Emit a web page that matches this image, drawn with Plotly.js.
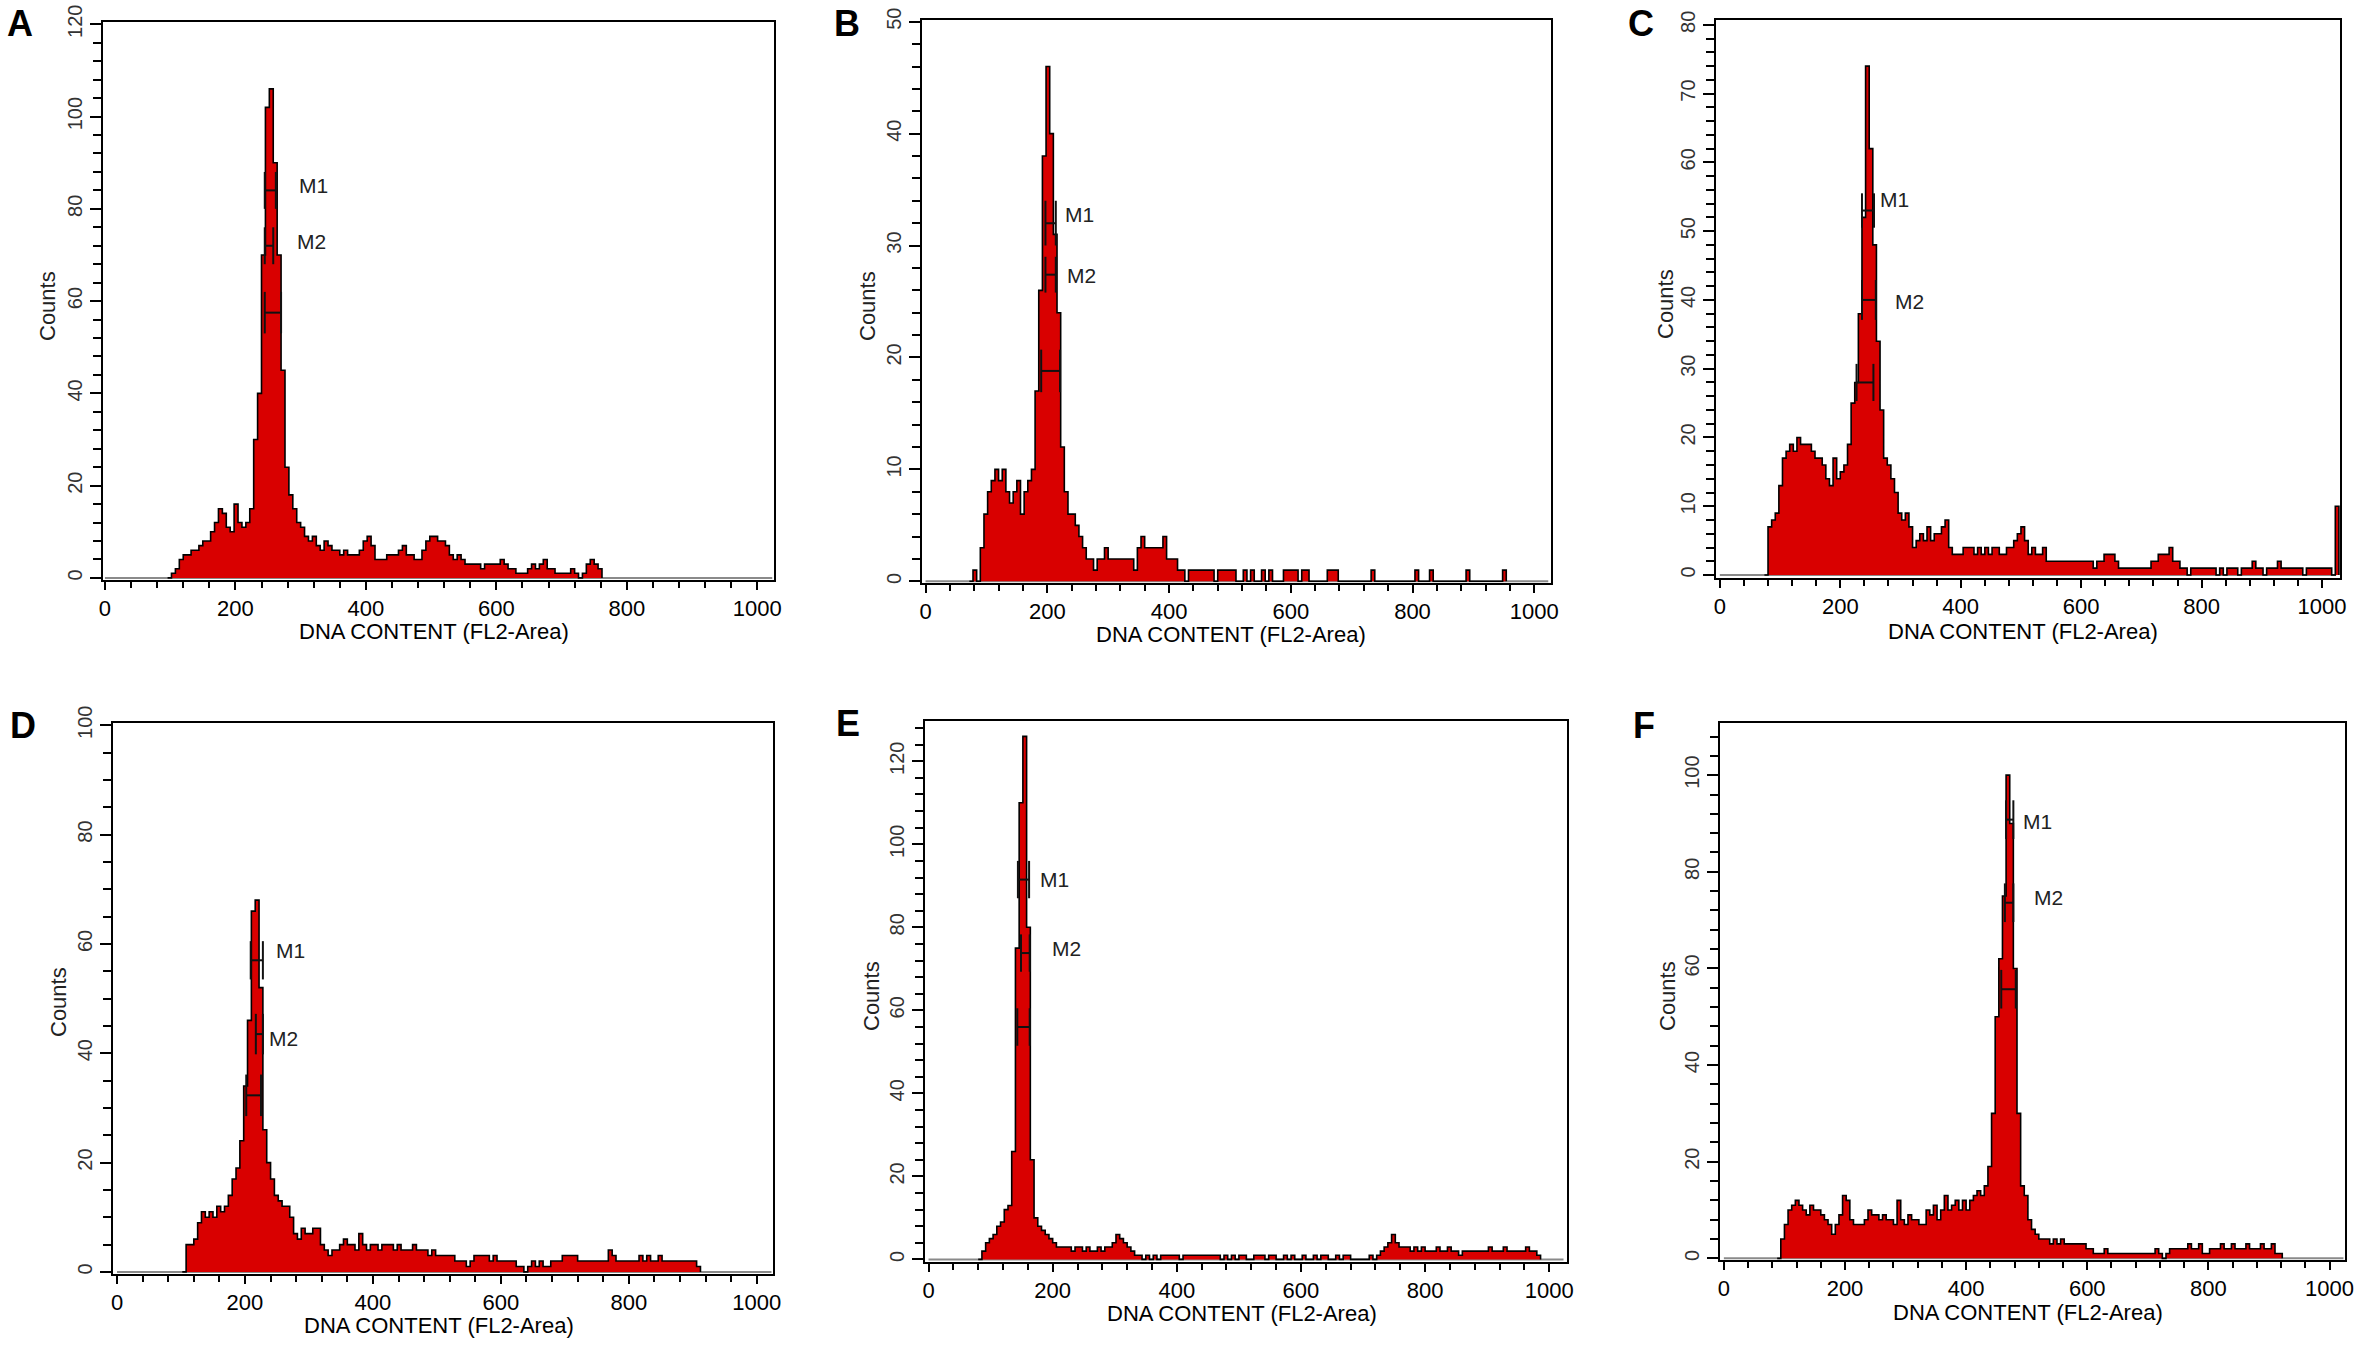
<!DOCTYPE html>
<html>
<head>
<meta charset="utf-8">
<script src="https://cdn.plot.ly/plotly-3.0.1.min.js"></script>
<style>
  html, body { margin: 0; padding: 0; background: #fff; }
  #chart { width: 2363px; height: 1345px; }
</style>
</head>
<body>
<div id="chart"></div>
<script>
// DNA content histograms, six samples (A-F). Counts per 6-channel bin.
const binWidth = 6;

const startA = 96;
const countsA = [
  0, 1, 2, 4, 5, 5, 6, 6, 7, 8,            // 96
  8, 10, 12, 15, 14, 11, 10, 16, 12, 11,   // 156
  12, 15, 30, 40, 70, 102, 106, 90, 70, 45,// 216
  24, 18, 15, 12, 11, 9, 8, 9, 7, 6,       // 276
  8, 7, 6, 6, 5, 6, 5, 5, 5, 6,            // 336
  8, 9, 7, 4, 4, 4, 5, 5, 5, 6,            // 396
  7, 5, 5, 4, 4, 6, 8, 9, 9, 8,            // 456
  8, 7, 5, 4, 5, 4, 3, 3, 3, 3,            // 516
  2, 3, 3, 3, 3, 4, 3, 2, 2, 1,            // 576
  1, 1, 2, 3, 2, 3, 4, 2, 2, 1,            // 636
  1, 1, 1, 2, 1, 0, 1, 3, 4, 3,            // 696
  2, 0                                     // 756
];

const startB = 72;
const countsB = [
  0,                                       // 72
  1, 0, 3, 6, 8, 9, 10, 9, 10, 8,          // 78
  7, 8, 9, 6, 8, 9, 10, 17, 26, 38,        // 138
  46, 40, 31, 24, 12, 8, 6, 6, 5, 4,       // 198
  3, 2, 2, 1, 2, 2, 3, 2, 2, 2,            // 258
  2, 2, 2, 2, 1, 3, 4, 3, 3, 3,            // 318
  3, 3, 4, 2, 2, 2, 1, 1, 0, 1,            // 378
  1, 1, 1, 1, 1, 1, 0, 1, 1, 1,            // 438
  1, 1, 0, 0, 1, 0, 1, 0, 0, 1,            // 498
  0, 1, 0, 0, 0, 1, 1, 1, 1, 0,            // 558
  1, 1, 0, 0, 0, 0, 0, 1, 1, 1,            // 618
  0, 0, 0, 0, 0, 0, 0, 0, 0, 1,            // 678
  0, 0, 0, 0, 0, 0, 0, 0, 0, 0,            // 738
  0, 1, 0, 0, 0, 1, 0, 0, 0, 0,            // 798
  0, 0, 0, 0, 0, 1, 0, 0, 0, 0,            // 858
  0, 0, 0, 0, 0, 1, 0                      // 918
];

const startC = 74;
const countsC = [
  0,                                       // 74
  7, 8, 9, 13, 17, 18, 19, 18, 20, 19,     // 80
  19, 19, 18, 17, 17, 16, 14, 13, 17, 14,  // 140
  15, 16, 19, 25, 28, 38, 52, 74, 62, 48,  // 200
  34, 24, 17, 16, 14, 12, 9, 8, 9, 7,      // 260
  4, 5, 6, 5, 7, 5, 6, 6, 7, 8,            // 320
  4, 3, 3, 3, 4, 4, 4, 3, 4, 3,            // 380
  4, 3, 4, 4, 3, 3, 4, 4, 5, 6,            // 440
  7, 5, 3, 4, 3, 3, 4, 2, 2, 2,            // 500
  2, 2, 2, 2, 2, 2, 2, 2, 2, 2,            // 560
  1, 2, 2, 3, 3, 3, 2, 1, 1, 1,            // 620
  1, 1, 1, 1, 1, 1, 2, 2, 3, 3,            // 680
  3, 4, 2, 2, 1, 1, 0, 1, 1, 1,            // 740
  1, 1, 1, 1, 0, 1, 0, 1, 1, 1,            // 800
  0, 1, 1, 1, 2, 1, 1, 0, 1, 1,            // 860
  1, 2, 1, 1, 1, 1, 1, 1, 0, 1,            // 920
  1, 1, 1, 1, 1, 1, 0, 10, 0               // 980
];

const startD = 102;
const countsD = [
  0,                                       // 102
  5, 5, 6, 9, 11, 10, 11, 10, 12, 11,      // 108
  12, 14, 17, 19, 24, 34, 46, 66, 68, 52,  // 168
  26, 20, 17, 14, 13, 12, 12, 10, 7, 6,    // 228
  8, 7, 7, 8, 8, 5, 4, 3, 4, 4,            // 288
  5, 6, 5, 5, 4, 7, 5, 4, 5, 5,            // 348
  4, 5, 5, 5, 4, 5, 4, 4, 4, 5,            // 408
  4, 4, 4, 3, 4, 3, 3, 3, 3, 3,            // 468
  2, 2, 2, 1, 2, 3, 3, 3, 3, 2,            // 528
  3, 2, 2, 2, 2, 2, 1, 1, 0, 1,            // 588
  2, 1, 2, 1, 1, 2, 2, 2, 3, 3,            // 648
  3, 3, 2, 2, 2, 2, 2, 2, 2, 2,            // 708
  4, 3, 2, 2, 2, 2, 2, 2, 3, 2,            // 768
  3, 2, 2, 3, 2, 2, 2, 2, 2, 2,            // 828
  2, 2, 2, 1, 0                            // 888
];

const startE = 80;
const countsE = [
  0,                                       // 80
  2, 4, 5, 6, 8, 9, 12, 13, 26, 75,        // 86
  110, 126, 80, 24, 10, 8, 7, 6, 5, 4,     // 146
  3, 3, 3, 3, 2, 3, 3, 2, 3, 2,            // 206
  2, 3, 2, 3, 3, 4, 6, 5, 4, 3,            // 266
  2, 1, 1, 0, 1, 0, 1, 0, 1, 1,            // 326
  1, 1, 1, 0, 1, 1, 1, 1, 1, 1,            // 386
  1, 1, 1, 1, 0, 1, 0, 1, 0, 1,            // 446
  1, 0, 0, 1, 1, 1, 0, 1, 1, 0,            // 506
  0, 1, 0, 1, 0, 0, 1, 0, 0, 1,            // 566
  0, 1, 1, 0, 0, 1, 0, 1, 1, 0,            // 626
  0, 0, 0, 0, 1, 0, 1, 2, 3, 4,            // 686
  6, 4, 3, 3, 3, 2, 3, 2, 3, 2,            // 746
  2, 2, 3, 2, 2, 3, 2, 2, 1, 2,            // 806
  2, 2, 2, 2, 2, 2, 3, 2, 2, 2,            // 866
  3, 2, 2, 2, 2, 2, 3, 2, 2, 1,            // 926
  0                                        // 986
];

const startF = 88;
const countsF = [
  0,                                       // 88
  4, 7, 10, 11, 12, 11, 10, 9, 11, 10,     // 94
  10, 9, 8, 7, 5, 7, 9, 13, 12, 8,         // 154
  7, 7, 7, 8, 10, 9, 9, 8, 9, 8,           // 214
  8, 7, 12, 8, 7, 9, 8, 8, 7, 7,           // 274
  10, 9, 11, 8, 10, 13, 10, 11, 12, 10,    // 334
  12, 10, 12, 13, 14, 13, 15, 19, 30, 50,  // 394
  62, 75, 100, 90, 60, 30, 15, 13, 8, 6,   // 454
  5, 4, 4, 4, 3, 4, 3, 4, 3, 3,            // 514
  3, 3, 3, 3, 2, 2, 1, 1, 1, 2,            // 574
  1, 1, 1, 1, 1, 1, 1, 1, 1, 1,            // 634
  1, 1, 1, 2, 1, 0, 1, 2, 2, 2,            // 694
  2, 2, 3, 2, 2, 3, 1, 1, 2, 2,            // 754
  2, 3, 2, 2, 3, 2, 2, 2, 3, 2,            // 814
  2, 2, 3, 2, 2, 3, 1, 1, 0                // 874
];

// marker gates: [level, from channel, to channel, end-tick half height]
const gatesA = [[84, 245, 262, 4], [72, 245, 258, 4], [57.5, 245, 270, 4.5]];
const gatesB = [[32, 197, 214, 2], [27.4, 197, 214, 1.6], [18.8, 190, 221, 1.9]];
const gatesC = [[53, 236, 256, 2.5], [40, 236, 259, 2.9], [28, 227, 255, 2.7]];
const gatesD = [[57, 209, 228, 3.5], [43.5, 217, 228, 3.7], [32.3, 202, 225, 3.8]];
const gatesE = [[91.5, 144, 162, 4.5], [73.8, 149, 163, 4.5], [56, 143, 163, 4.5]];
const gatesF = [[90.8, 466, 478, 4], [73.6, 464, 478, 4], [55.7, 458, 482, 4]];

// gate labels M1, M2: [channel, count]
const gateNames = ['M1', 'M2'];
const labelsA = [[294, 85], [292, 73]];
const labelsB = [[226, 32.8], [229, 27.3]];
const labelsC = [[263, 54.6], [287, 39.8]];
const labelsD = [[246, 58.7], [234, 42.7]];
const labelsE = [[177, 91.5], [195, 75]];
const labelsF = [[490, 90.5], [508, 74.6]];

const panelLetters = ['A', 'B', 'C', 'D', 'E', 'F'];
const xTitle = 'DNA CONTENT (FL2-Area)';
const yTitle = 'Counts';
const yTop = [120.5, 50.2, 80.7, 100.4, 129.7, 110.9];
const yBottom = [-0.45, -0.15, -0.43, -0.38, -0.5, -0.34];
const yStep = [20, 10, 10, 20, 20, 20];
const yMinorStep = [4, 2, 2, 5, 4, 4];
const xLeft = [-3, -5.8, -6.4, -6.3, -6.5, -6.4];
const xRight = [1025.7, 1027.5, 1029.8, 1025.4, 1028.6, 1025.6];

const starts = [startA, startB, startC, startD, startE, startF];
const counts = [countsA, countsB, countsC, countsD, countsE, countsF];
const gates = [gatesA, gatesB, gatesC, gatesD, gatesE, gatesF];
const labels = [labelsA, labelsB, labelsC, labelsD, labelsE, labelsF];

// page geometry (px): plot boxes [left, right, top, bottom]
const W = 2363, H = 1345;
const BOXES = [
  [103, 774, 22, 580], [922, 1551, 19.5, 583], [1716, 2340, 20, 578],
  [113, 773, 723, 1274], [924.5, 1567, 721, 1261.5], [1720, 2345, 722.5, 1260]
];
const LETTER_POS = [[20, 23], [847, 23], [1641, 23], [23, 725], [848, 723], [1644, 725]];
const XTITLE_POS = [[434, 631], [1231, 634], [2023, 631], [439, 1325], [1242, 1313], [2028, 1312]];
const YTITLE_POS = [[48, 306], [868, 306], [1665, 304], [58, 1002], [871, 996], [1667, 996]];

const FONT = 'Liberation Sans, Arial, Helvetica, sans-serif';
const RED = '#d90000';

const px = (x, y) => ({ x: x / W, y: 1 - y / H });

const traces = [];
const annotations = [];
const shapes = [];
const layout = {
  width: W,
  height: H,
  margin: { t: 0, r: 0, b: 0, l: 0 },
  paper_bgcolor: '#fff',
  plot_bgcolor: '#fff',
  showlegend: false,
  font: { family: FONT, color: '#000' },
};

panelLetters.forEach((letter, i) => {
  const s = i === 0 ? '' : String(i + 1);
  const xa = 'x' + s, ya = 'y' + s;
  const [l, r, t, b] = BOXES[i];

  layout['xaxis' + s] = {
    domain: [l / W, r / W],
    anchor: ya,
    range: [xLeft[i], xRight[i]],
    tick0: 0, dtick: 200,
    ticks: 'outside', ticklen: 8, tickwidth: 2, tickcolor: '#000',
    minor: { tick0: 0, dtick: 40, ticks: 'outside', ticklen: 6, tickwidth: 2, tickcolor: '#000', showgrid: false },
    showline: true, mirror: true, linecolor: '#000', linewidth: 2,
    showgrid: false, zeroline: false,
    tickfont: { family: FONT, size: 22, color: '#000' },
    fixedrange: true,
  };
  layout['yaxis' + s] = {
    domain: [1 - b / H, 1 - t / H],
    anchor: xa,
    range: [yBottom[i], yTop[i]],
    tick0: 0, dtick: yStep[i],
    tickangle: -90,
    ticks: 'outside', ticklen: 11, tickwidth: 2, tickcolor: '#000',
    minor: { tick0: 0, dtick: yMinorStep[i], ticks: 'outside', ticklen: 8, tickwidth: 2, tickcolor: '#000', showgrid: false },
    showline: true, mirror: true, linecolor: '#000', linewidth: 2,
    showgrid: false, zeroline: false,
    tickfont: { family: FONT, size: 20, color: '#333' },
    fixedrange: true,
  };

  // zero baseline across the channel range
  shapes.push({
    type: 'line', xref: xa, yref: ya, layer: 'below',
    x0: 0, x1: 1023, y0: 0, y1: 0,
    line: { color: '#8a8a8a', width: 2 },
  });

  traces.push({
    type: 'scatter',
    mode: 'lines',
    x0: starts[i],
    dx: binWidth,
    y: counts[i],
    xaxis: xa, yaxis: ya,
    line: { shape: 'hv', color: '#000', width: 1.6 },
    fill: 'tozeroy',
    fillcolor: RED,
    hoverinfo: 'skip',
  });

  // gate brackets
  const gx = [], gy = [];
  gates[i].forEach(([lev, a, bb, h]) => {
    gx.push(a, bb, null, a, a, null, bb, bb, null);
    gy.push(lev, lev, null, lev - h, lev + h, null, lev - h, lev + h, null);
  });
  traces.push({
    type: 'scatter', mode: 'lines',
    x: gx, y: gy, xaxis: xa, yaxis: ya,
    line: { color: '#111', width: 2 },
    hoverinfo: 'skip', connectgaps: false,
  });

  labels[i].forEach(([cx, cy], k) => {
    annotations.push({
      xref: xa, yref: ya, x: cx, y: cy,
      text: gateNames[k], showarrow: false,
      xanchor: 'left', yanchor: 'middle',
      font: { family: FONT, size: 21, color: '#222' },
    });
  });

  const lp = px(...LETTER_POS[i]);
  annotations.push({
    xref: 'paper', yref: 'paper', x: lp.x, y: lp.y,
    text: '<b>' + letter + '</b>', showarrow: false,
    xanchor: 'center', yanchor: 'middle',
    font: { family: FONT, size: 36, color: '#000' },
  });

  const xp = px(...XTITLE_POS[i]);
  annotations.push({
    xref: 'paper', yref: 'paper', x: xp.x, y: xp.y,
    text: xTitle, showarrow: false,
    xanchor: 'center', yanchor: 'middle',
    font: { family: FONT, size: 22, color: '#000' },
  });

  const yp = px(...YTITLE_POS[i]);
  annotations.push({
    xref: 'paper', yref: 'paper', x: yp.x, y: yp.y,
    text: yTitle, showarrow: false, textangle: -90,
    xanchor: 'center', yanchor: 'middle',
    font: { family: FONT, size: 22, color: '#222' },
  });
});

layout.annotations = annotations;
layout.shapes = shapes;

Plotly.newPlot('chart', traces, layout, { displayModeBar: false, staticPlot: true });
</script>
</body>
</html>
